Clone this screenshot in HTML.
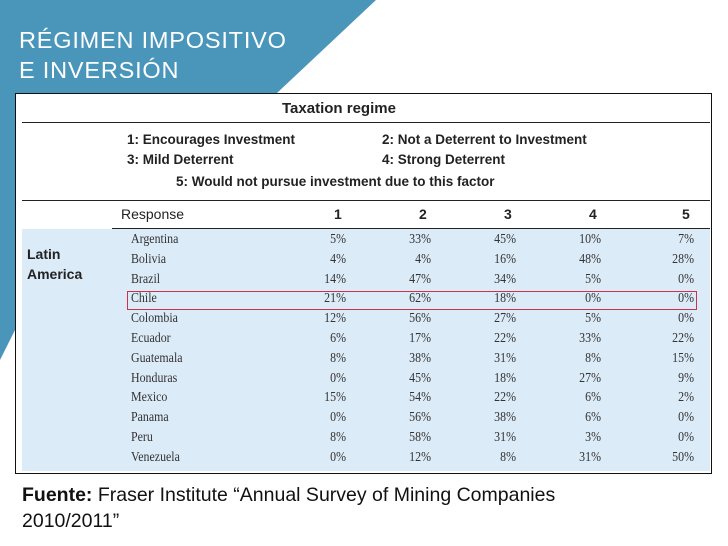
<!DOCTYPE html>
<html><head><meta charset="utf-8"><style>
body{margin:0;width:728px;height:546px;overflow:hidden;background:#fff;font-family:"Liberation Sans",sans-serif;position:relative}
.abs{position:absolute}
.t{font-family:"Liberation Sans Narrow","Liberation Sans",sans-serif;font-weight:bold;color:#222;font-size:14px;white-space:nowrap}
.cell{font-family:"Liberation Serif",serif;font-size:14px;color:#333;position:absolute;white-space:nowrap;transform:scaleX(0.85);transform-origin:left center}
.num{font-family:"Liberation Serif",serif;font-size:14px;color:#333;position:absolute;white-space:nowrap;text-align:right;width:40px;transform:scaleX(0.85);transform-origin:right center}
</style></head><body>
<svg class="abs" style="left:0;top:0" width="728" height="546">
<polygon points="0,0 376,0 277,93 15,93 15,330 0,360" fill="#4a96bb"/>
</svg>
<div class="abs" style="left:19px;top:25px;color:#fff;font-size:23.5px;line-height:30px;letter-spacing:0.8px">RÉGIMEN IMPOSITIVO<br>E INVERSIÓN</div>
<div class="abs" style="left:15px;top:93px;width:697px;height:381px;border:1.5px solid #111;background:#fff;box-sizing:border-box"></div>
<div class="abs" style="left:22px;top:229px;width:688px;height:242px;background:#dcebf8"></div>
<div class="abs" style="left:22px;top:122px;width:688px;height:1px;background:#222"></div>
<div class="abs" style="left:22px;top:200px;width:688px;height:1px;background:#222"></div>
<div class="abs" style="left:112px;top:228px;width:598px;height:1px;background:#222"></div>
<div class="abs t" style="left:282px;top:100px;font-size:15px">Taxation regime</div>
<div class="abs t" style="left:127px;top:132px;font-size:13.5px">1: Encourages Investment</div>
<div class="abs t" style="left:382px;top:132px;font-size:13.5px">2: Not a Deterrent to Investment</div>
<div class="abs t" style="left:127px;top:152px;font-size:13.5px">3: Mild Deterrent</div>
<div class="abs t" style="left:382px;top:152px;font-size:13.5px">4: Strong Deterrent</div>
<div class="abs t" style="left:176px;top:174px;font-size:13.5px">5: Would not pursue investment due to this factor</div>
<div class="abs t" style="left:121px;top:206px;font-weight:normal">Response</div>
<div class="abs t" style="left:27px;top:244px;line-height:20px">Latin<br>America</div>
<div id="tbl"></div>
<div class="abs" style="left:127px;top:291px;width:570px;height:19px;border:1.5px solid #d0304a;box-sizing:border-box;z-index:5"></div>
<div class="abs" style="left:22px;top:482px;font-size:19.5px;line-height:26px;color:#111"><b>Fuente:</b> Fraser Institute “Annual Survey of Mining Companies<br>2010/2011”</div>
<script>
const countries=["Argentina","Bolivia","Brazil","Chile","Colombia","Ecuador","Guatemala","Honduras","Mexico","Panama","Peru","Venezuela"];
const col1=[5,4,14,21,12,6,8,0,15,0,8,0];
const col2=[33,4,47,62,56,17,38,45,54,56,58,12];
const col3=[45,16,34,18,27,22,31,18,22,38,31,8];
const col4=[10,48,5,0,5,33,8,27,6,6,3,31];
const col5=[7,28,0,0,0,22,15,9,2,0,0,50];
const headers=["1","2","3","4","5"];
const cols=[col1,col2,col3,col4,col5];
const colRight=[346,431,516,601,694];
const tbl=document.getElementById('tbl');
headers.forEach((h,j)=>{
  const d=document.createElement('div');
  d.className='abs t';
  
  
  d.style.left=(colRight[j]-12)+'px';d.style.top='206px';
  d.textContent=h;tbl.appendChild(d);
});
countries.forEach((c,i)=>{
  const y=232+i*19.8;
  const n=document.createElement('div');
  n.className='cell';
  
  
  n.style.left='131px';n.style.top=y+'px';n.textContent=c;tbl.appendChild(n);
  cols.forEach((arr,j)=>{
    const v=document.createElement('div');
    v.className='num';
    
    
    v.style.left=(colRight[j]-40)+'px';v.style.top=y+'px';
    v.textContent=arr[i]+'%';tbl.appendChild(v);
  });
});
</script>
</body></html>
